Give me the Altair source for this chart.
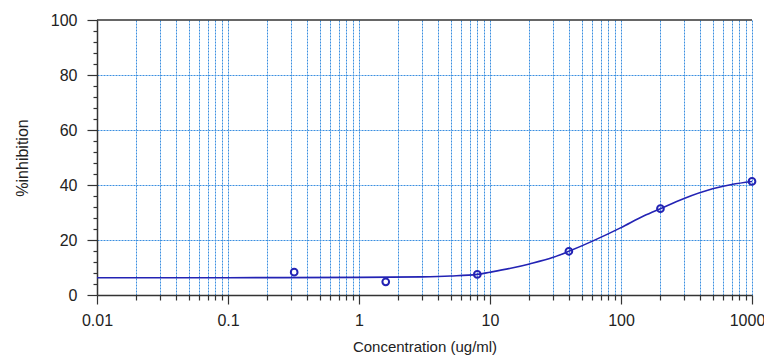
import altair as alt
import pandas as pd

# Measured points
conc = [0.32, 1.6, 8, 40, 200, 1000]
inhib = [8.3, 4.8, 7.5, 15.9, 31.4, 41.3]

# Fitted curve
curve_x = [0.01, 0.1, 1, 3, 5, 8, 10, 15, 20, 30, 40, 60, 100, 150, 200, 300, 500, 700, 1000]
curve_y = [6.3, 6.3, 6.4, 6.6, 6.9, 7.5, 8.3, 9.9, 11.3, 13.6, 15.9, 19.5, 24.5, 28.8, 31.4, 35.0, 38.6, 40.2, 41.3]

x_ticks = [m * 10.0 ** e for e in range(-2, 3) for m in range(1, 10)] + [1000]
y_ticks = list(range(0, 101, 4))

pts = pd.DataFrame({"x": conc, "y": inhib})
crv = pd.DataFrame({"x": curve_x, "y": curve_y})

FONT = "Liberation Sans"
GRID = "#3b8fe0"
AX = "#333333"
TXT = "#222222"

is_decade = "abs(log(datum.value)/LN10 - round(log(datum.value)/LN10)) < 0.001"

x_scale = alt.Scale(type="log", domain=[0.01, 1000], nice=False)
y_scale = alt.Scale(domain=[0, 100], nice=False)

x_axis = alt.Axis(
    values=x_ticks,
    labelExpr=f"{is_decade} ? (datum.value >= 1 ? format(datum.value, 'd') : format(datum.value, '')) : ''",
    grid=True, gridColor=GRID, gridDash=[2, 1], gridWidth=1,
    gridOpacity={"condition": {"test": "datum.value <= 0.0100001", "value": 0}, "value": 1},
    tickSize={"condition": {"test": is_decade, "value": 9}, "value": 5},
    tickColor=AX, domainColor=AX, domainWidth=1.5, tickWidth=1.2,
    labelFont=FONT, labelFontSize=16, labelColor=TXT, labelPadding=8,
    labelOffset={"condition": {"test": "datum.value >= 999", "value": -5}, "value": 0},
    labelFlush=False, labelOverlap=False,
    title="Concentration (ug/ml)", titleFont=FONT, titleFontSize=15,
    titleFontWeight="normal", titleColor=TXT, titlePadding=11,
)
y_axis = alt.Axis(
    values=y_ticks,
    labelExpr="datum.value % 20 == 0 ? datum.label : ''",
    grid=True, gridColor=GRID, gridDash=[2, 1], gridWidth=1,
    gridOpacity={"condition": {"test": "datum.value % 20 == 0 && datum.value > 0 && datum.value < 100", "value": 1}, "value": 0},
    tickSize={"condition": {"test": "datum.value % 20 == 0", "value": 10}, "value": 4},
    tickColor=AX, domainColor=AX, domainWidth=1.5, tickWidth=1.2,
    labelFont=FONT, labelFontSize=16, labelColor=TXT, labelPadding=10,
    labelOverlap=False,
    title="%inhibition", titleFont=FONT, titleFontSize=16,
    titleFontWeight="normal", titleColor=TXT, titlePadding=20,
)

X = alt.X("x:Q", scale=x_scale, axis=x_axis)
Y = alt.Y("y:Q", scale=y_scale, axis=y_axis)

line = alt.Chart(crv).mark_line(color="#2323b4", strokeWidth=1.6, interpolate="monotone").encode(x=X, y=Y)
points = alt.Chart(pts).mark_point(shape="circle", size=45, color="#2323b4", strokeWidth=2, filled=False, opacity=1).encode(x=X, y=Y)
top = alt.Chart(pd.DataFrame({"y": [100]})).mark_rule(color=AX, strokeWidth=1.5).encode(y=Y)

chart = alt.layer(line, points, top).properties(
    width=655, height=275,
    autosize=alt.AutoSizeParams(type="none"),
    padding={"left": 89, "top": 12, "right": 12, "bottom": 60},
).configure_view(stroke=None)

chart.save("out.html", embed_options={"renderer": "svg", "actions": False})
